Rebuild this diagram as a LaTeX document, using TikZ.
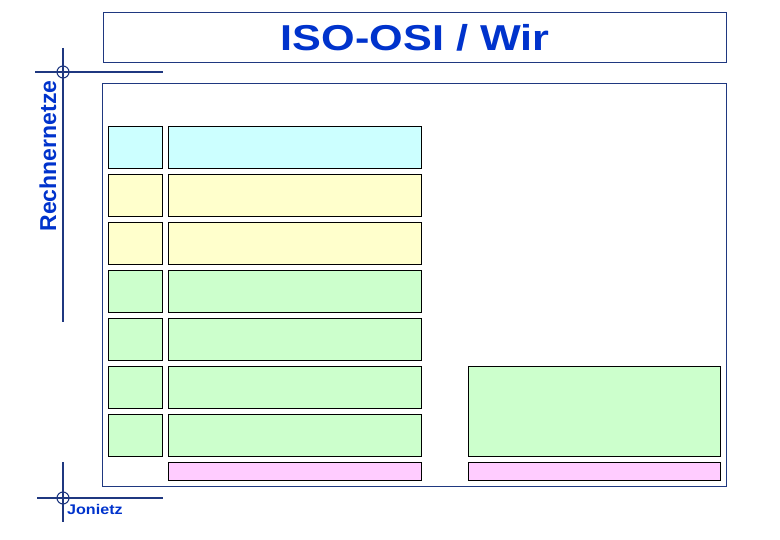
\documentclass[tikz,border=0pt]{standalone}
\usepackage{fontspec}
\setmainfont{Liberation Sans}
\usetikzlibrary{positioning}
\definecolor{framenavy}{RGB}{31,56,128}
\definecolor{textblue}{RGB}{0,51,204}
\definecolor{layercyan}{RGB}{204,255,255}
\definecolor{layeryellow}{RGB}{255,255,204}
\definecolor{layergreen}{RGB}{204,255,204}
\definecolor{layerpink}{RGB}{255,204,255}

\begin{document}
\begin{tikzpicture}[
    x=1pt, y=-1pt,
    frame/.style={draw=framenavy, line width=1pt},
    cross/.style={draw=framenavy, line width=1.1pt},
    layer/.style={rectangle, draw=black, line width=1.1pt, anchor=north west, inner sep=0pt},
    tag/.style={font=\bfseries, text=textblue, inner sep=0pt}
]
    \useasboundingbox (0,0) rectangle (780,540);

    % frames
    \node[frame, rectangle, anchor=north west, inner sep=0pt, minimum width=623pt, minimum height=50pt] (titlebox) at (103,12) {};
    \node[tag, font=\fontsize{36}{40}\selectfont\bfseries] (title) at (titlebox.center) {\scalebox{1.2}[1]{ISO-OSI / Wir}};
    \node[frame, rectangle, anchor=north west, inner sep=0pt, minimum width=624pt, minimum height=403pt] (mainbox) at (102,83) {};

    % crosshairs
    \coordinate (ctop) at (63,72);
    \coordinate (cbot) at (63,498);
    \draw[cross] (63,48) -- (63,322);
    \draw[cross] (35,72) -- (163,72);
    \draw[cross] (ctop) circle (6);
    \draw[cross] (63,462) -- (63,522);
    \draw[cross] (37,498) -- (163,498);
    \draw[cross] (cbot) circle (6);

    \node[tag, font=\fontsize{23}{26}\selectfont\bfseries, rotate=90] (course) at (48,156) {Rechnernetze};
    \node[tag, font=\fontsize{14}{16}\selectfont\bfseries, anchor=west] (author) at (67,509) {\scalebox{1.15}[1]{Jonietz}};

    % layers
    \foreach \i/\c in {0/layercyan, 1/layeryellow, 2/layeryellow, 3/layergreen, 4/layergreen, 5/layergreen, 6/layergreen} {
        \node[layer, fill=\c, minimum width=54pt, minimum height=42pt] (num\i) at (108,126+48*\i) {};
        \node[layer, fill=\c, minimum width=253pt, minimum height=42pt] (osi\i) at (168,126+48*\i) {};
    }
    \node[layer, fill=layergreen, minimum width=252pt, minimum height=90pt] (wir) at (468,366) {};
    \node[layer, fill=layerpink, minimum width=253pt, minimum height=18pt] (osimedium) at (168,462) {};
    \node[layer, fill=layerpink, minimum width=252pt, minimum height=18pt] (wirmedium) at (468,462) {};
\end{tikzpicture}
\end{document}
